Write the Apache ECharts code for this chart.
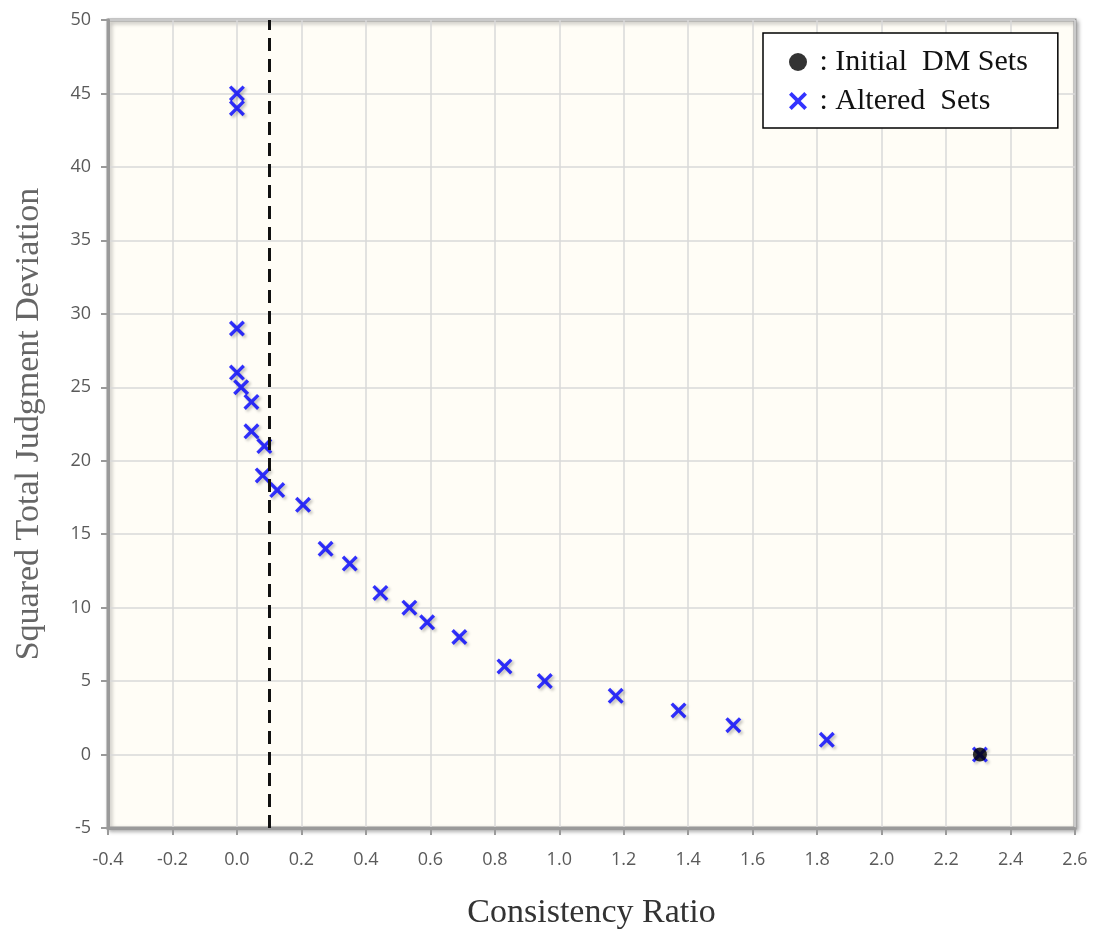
<!DOCTYPE html>
<html>
<head>
<meta charset="utf-8">
<script src="https://cdn.jsdelivr.net/npm/echarts@6/dist/echarts.min.js"></script>
<style>html,body{margin:0;padding:0;background:#fff;}#chart{width:1103px;height:935px;}</style>
</head>
<body>
<div id="chart"></div>
<script>
// Altered sets: consistency ratio (x) and squared total judgment deviation (y)
var alteredCR  = [0.0, 0.0, 0.0, 0.0, 0.013, 0.045, 0.045, 0.085, 0.08, 0.125, 0.205, 0.275, 0.35, 0.445, 0.535, 0.59, 0.69, 0.83, 0.955, 1.175, 1.37, 1.54, 1.83, 2.305];
var alteredDev = [45, 44, 29, 26, 25, 24, 22, 21, 19, 18, 17, 14, 13, 11, 10, 9, 8, 6, 5, 4, 3, 2, 1, 0];
// Initial DM set
var initialCR  = [2.305];
var initialDev = [0];
// Consistency threshold
var thresholdCR = 0.1;
var seriesNames = ['Initial  DM Sets', 'Altered  Sets'];

var xShape = 'path://M0,1.5 L1.5,0 L5,3.5 L8.5,0 L10,1.5 L6.5,5 L10,8.5 L8.5,10 L5,6.5 L1.5,10 L0,8.5 L3.5,5 Z';

function pairs(xs, ys) { return xs.map(function (x, i) { return [x, ys[i]]; }); }

var chart = echarts.init(document.getElementById('chart'));
var tickFont = { color: '#5a5a5a', fontSize: 18, fontFamily: 'Open Sans, DejaVu Sans, sans-serif' };
var serif = 'Liberation Serif, Times New Roman, serif';
chart.setOption({
  animation: false,
  backgroundColor: '#ffffff',
  grid: {
    left: 108, right: 28, top: 20, bottom: 105,
    show: true, backgroundColor: '#fffdf6', borderColor: '#9a9a9a', borderWidth: 3,
    shadowColor: 'rgba(0,0,0,0.3)', shadowBlur: 4, shadowOffsetX: 2, shadowOffsetY: 2
  },
  legend: {
    left: 763, top: 33, orient: 'vertical',
    backgroundColor: '#ffffff', borderColor: '#000', borderWidth: 1.5,
    padding: [14, 30, 12, 26], itemGap: 9, itemWidth: 18, itemHeight: 18,
    data: [
      { name: seriesNames[0], icon: 'circle', itemStyle: { color: '#000' } },
      { name: seriesNames[1], icon: xShape, itemStyle: { color: '#0000ff' } }
    ],
    formatter: function (n) { return ' : ' + n; },
    textStyle: { fontFamily: serif, fontSize: 30, color: '#111' }
  },
  xAxis: {
    type: 'value', min: -0.4, max: 2.6, interval: 0.2,
    name: 'Consistency Ratio', nameLocation: 'middle', nameGap: 68,
    nameTextStyle: { fontFamily: serif, fontSize: 34, color: '#333' },
    axisLine: { show: true, onZero: false, lineStyle: { color: '#9a9a9a', width: 3 } },
    axisTick: { show: true, length: 7, lineStyle: { color: '#9a9a9a', width: 2 } },
    axisLabel: Object.assign({ margin: 23, formatter: function (v) { return v.toFixed(1); } }, tickFont),
    splitLine: { show: true, lineStyle: { color: '#d9d9d9', width: 1.5 } }
  },
  yAxis: {
    type: 'value', min: -5, max: 50, interval: 5,
    name: 'Squared Total Judgment Deviation', nameLocation: 'middle', nameGap: 62,
    nameTextStyle: { fontFamily: serif, fontSize: 34, color: '#666' },
    axisLine: { show: true, onZero: false, lineStyle: { color: '#9a9a9a', width: 3 } },
    axisTick: { show: true, length: 7, lineStyle: { color: '#9a9a9a', width: 2 } },
    axisLabel: Object.assign({ margin: 17 }, tickFont),
    splitLine: { show: true, lineStyle: { color: '#d9d9d9', width: 1.5 } }
  },
  series: [
    {
      name: seriesNames[1], type: 'scatter', z: 3,
      symbol: xShape, symbolSize: 16,
      itemStyle: { color: '#0000ff', shadowColor: 'rgba(0,0,0,0.3)', shadowBlur: 3, shadowOffsetX: 2, shadowOffsetY: 2 },
      data: pairs(alteredCR, alteredDev),
      markLine: {
        silent: true, symbol: 'none', label: { show: false },
        lineStyle: { color: '#111', width: 3, type: [13, 8] },
        data: [{ xAxis: thresholdCR }]
      }
    },
    {
      name: seriesNames[0], type: 'scatter', z: 4,
      symbol: 'circle', symbolSize: 14,
      itemStyle: { color: '#000' },
      data: pairs(initialCR, initialDev)
    }
  ]
});
</script>
</body>
</html>
